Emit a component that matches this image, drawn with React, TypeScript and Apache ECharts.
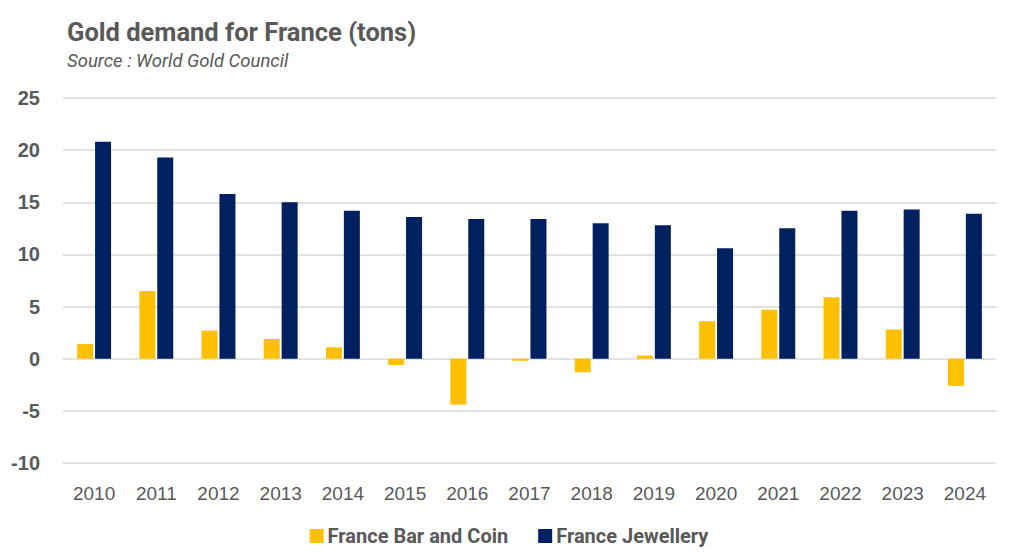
import { useEffect, useRef } from 'react'
import * as echarts from 'echarts'

const years = ['2010', '2011', '2012', '2013', '2014', '2015', '2016', '2017', '2018', '2019', '2020', '2021', '2022', '2023', '2024']
const barAndCoin = [1.4, 6.5, 2.7, 1.9, 1.1, -0.6, -4.4, -0.2, -1.3, 0.3, 3.6, 4.7, 5.9, 2.8, -2.6]
const jewellery = [20.8, 19.3, 15.8, 15.0, 14.2, 13.6, 13.4, 13.4, 13.0, 12.8, 10.6, 12.5, 14.2, 14.3, 13.9]

const TITLE_FONT = "Roboto, 'Noto Sans', sans-serif"
const AXIS_FONT = "'Liberation Sans', Arial, sans-serif"
const GREY = '#595959'

export default function App() {
  const ref = useRef<HTMLDivElement | null>(null)

  useEffect(() => {
    document.body.style.margin = '0'
    if (!ref.current) return
    const chart = echarts.init(ref.current, null, { renderer: 'svg' })
    chart.setOption({
      animation: false,
      backgroundColor: '#ffffff',
      textStyle: { fontFamily: TITLE_FONT },
      title: {
        text: 'Gold demand for France (tons)',
        subtext: 'Source : World Gold Council',
        left: 62,
        top: 14,
        itemGap: 6,
        textStyle: { fontFamily: TITLE_FONT, fontSize: 25.5, fontWeight: 'bold', color: GREY },
        subtextStyle: { fontFamily: TITLE_FONT, fontSize: 18.5, fontStyle: 'italic', color: GREY },
      },
      legend: {
        bottom: 5,
        left: 'center',
        itemWidth: 14,
        itemHeight: 14,
        itemGap: 30,
        icon: 'rect',
        textStyle: { fontFamily: TITLE_FONT, fontSize: 20, fontWeight: 'bold', color: GREY, padding: [0, 0, 0, -1] },
        data: ['France Bar and Coin', 'France Jewellery'],
      },
      grid: { left: 63, right: 22, top: 98, bottom: 93 },
      xAxis: {
        type: 'category',
        data: years,
        axisLine: { show: false },
        axisTick: { show: false },
        axisLabel: { color: GREY, fontSize: 19, margin: 21, fontFamily: AXIS_FONT },
      },
      yAxis: {
        type: 'value',
        min: -10,
        max: 25,
        interval: 5,
        axisLine: { show: false },
        axisTick: { show: false },
        axisLabel: { color: GREY, fontSize: 20, fontWeight: 'bold', margin: 23, fontFamily: AXIS_FONT },
        splitLine: { lineStyle: { color: '#d9d9d9', width: 1.5 } },
      },
      series: [
        {
          name: 'France Bar and Coin',
          type: 'bar',
          data: barAndCoin,
          barWidth: 16,
          barGap: '12%',
          itemStyle: { color: '#ffc000' },
        },
        {
          name: 'France Jewellery',
          type: 'bar',
          data: jewellery,
          barWidth: 16,
          itemStyle: { color: '#002060' },
        },
      ],
    })
    return () => chart.dispose()
  }, [])

  return <div ref={ref} style={{ width: 1018, height: 556 }} />
}
